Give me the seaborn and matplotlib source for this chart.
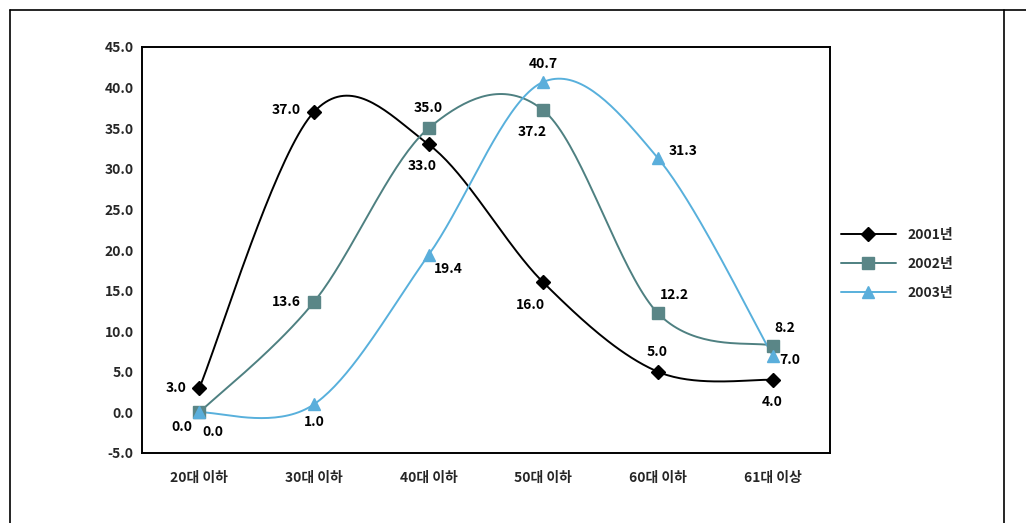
import numpy as np
import seaborn as sns
import matplotlib
matplotlib.use("Agg")
import matplotlib.pyplot as plt
from matplotlib.lines import Line2D

# data
categories = ["20대 이하", "30대 이하", "40대 이하", "50대 이하", "60대 이하", "61대 이상"]
series_names = ["2001년", "2002년", "2003년"]
values_2001 = [3.0, 37.0, 33.0, 16.0, 5.0, 4.0]
values_2002 = [0.0, 13.6, 35.0, 37.2, 12.2, 8.2]
values_2003 = [0.0, 1.0, 19.4, 40.7, 31.3, 7.0]
y_ticks = [-5, 0, 5, 10, 15, 20, 25, 30, 35, 40, 45]

# label offsets in pixels (style only)
offsets = [
    [(-23, 0), (-28, 2), (-6, -22), (-13, -23), (-1, 20), (0, -22)],
    [(-17, -15), (-28, 0), (0, 20), (-11, -22), (16, 18), (12, 18)],
    [(14, -20), (0, -18), (20, -14), (0, 18), (25, 7), (17, -4)],
]
colors = ["#000000", "#4e8081", "#58b0dc"]
marker_colors = ["#000000", "#5a8687", "#5aaedb"]
markers = ["D", "s", "^"]
msizes = [7.5, 9, 9]
fs = 10


def smooth(xv, yv, n=40):
    # Bezier smoothing through the points (Excel-style smoothed line)
    pts = np.column_stack([xv, yv]).astype(float)
    padded = np.vstack([pts[0], pts, pts[-1]])
    out = []
    for i in range(len(pts) - 1):
        p0, p1, p2, p3 = padded[i], padded[i + 1], padded[i + 2], padded[i + 3]
        b1 = p1 + (p2 - p0) / 6
        b2 = p2 - (p3 - p1) / 6
        t = np.linspace(0, 1, n)[:, None]
        seg = ((1 - t) ** 3) * p1 + 3 * ((1 - t) ** 2) * t * b1 + 3 * (1 - t) * t ** 2 * b2 + t ** 3 * p2
        out.append(seg if i == 0 else seg[1:])
    out = np.vstack(out)
    return out[:, 0], out[:, 1]


sns.set_style("white")
plt.rcParams['font.family'] = ['Noto Sans CJK KR', 'DejaVu Sans']
plt.rcParams['font.weight'] = 'bold'

fig = plt.figure(figsize=(10.26, 5.23), dpi=100)
ax = fig.add_axes([142 / 1026, 70 / 523, 688 / 1026, 406 / 523])

x = np.arange(len(categories))
all_values = [values_2001, values_2002, values_2003]
for k, vals in enumerate(all_values):
    sx, sy = smooth(x, vals)
    sns.lineplot(x=sx, y=sy, ax=ax, color=colors[k], linewidth=1.4, sort=False, estimator=None)
    ax.plot(x, vals, linestyle="none", marker=markers[k], markersize=msizes[k],
            color=marker_colors[k], markeredgecolor=marker_colors[k], zorder=5)
    for i, v in enumerate(vals):
        ax.annotate(f"{v:.1f}", (x[i], v), xytext=offsets[k][i], textcoords="offset pixels",
                    ha="center", va="center", fontsize=fs, fontweight="bold", color="black", zorder=6)

ax.set_xlim(-0.5, len(categories) - 0.5)
ax.set_ylim(-5, 45)
ax.set_xticks(x)
ax.set_xticklabels(categories, fontsize=fs, fontweight="bold")
ax.set_yticks(y_ticks)
ax.set_yticklabels([f"{t:.1f}" for t in y_ticks], fontsize=fs, fontweight="bold")
ax.tick_params(axis="y", direction="in", length=5, width=1.2, pad=6)
ax.tick_params(axis="x", direction="in", length=4, width=1.0, pad=13)
for s in ax.spines.values():
    s.set_color("black")
    s.set_linewidth(1.4)

handles = [Line2D([0], [0], color=colors[k], marker=markers[k], markersize=msizes[k],
                  markerfacecolor=marker_colors[k], markeredgecolor=marker_colors[k], linewidth=1.4)
           for k in range(3)]
leg = fig.legend(handles, series_names, loc="center left", bbox_to_anchor=(835 / 1026, 1 - 264 / 523),
                 frameon=False, fontsize=fs, handlelength=4, labelspacing=1.1, borderaxespad=0)
for t in leg.get_texts():
    t.set_fontweight("bold")

# outer frame of the chart
fig.add_artist(Line2D([10 / 1026, 1.0], [1 - 10 / 523, 1 - 10 / 523], color="black", linewidth=1.2))
fig.add_artist(Line2D([10 / 1026, 10 / 1026], [0, 1 - 10 / 523], color="black", linewidth=1.2))
fig.add_artist(Line2D([1004 / 1026, 1004 / 1026], [0, 1 - 10 / 523], color="black", linewidth=1.2))

fig.savefig("out.png", dpi=100)
